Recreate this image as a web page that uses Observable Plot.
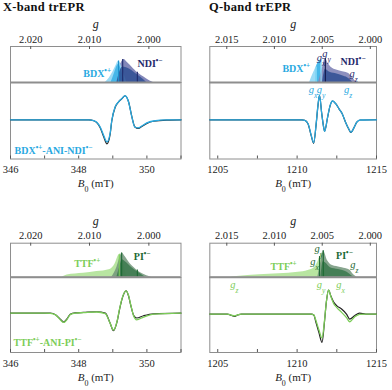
<!DOCTYPE html>
<html><head><meta charset="utf-8">
<script src="https://cdn.jsdelivr.net/npm/d3@7"></script>
<script src="https://cdn.jsdelivr.net/npm/@observablehq/plot@0.6"></script>
<style>
body{margin:0;background:#fff;}
#root{position:relative;width:392px;height:390px;overflow:hidden;background:#fff;font-family:'Liberation Serif','Times New Roman',serif;}
.title{position:absolute;top:0px;font-weight:bold;font-size:12.5px;line-height:14px;letter-spacing:0.3px;color:#111;white-space:nowrap;}
</style></head>
<body><div id="root">
<div class="title" style="left:3px">X-band trEPR</div>
<div class="title" style="left:209px">Q-band trEPR</div>
</div>
<script>
// ---------- axis ticks ----------
const gTicksX = [2.020, 2.010, 2.000];
const gTicksQ = [2.015, 2.010, 2.005, 2.000];
const freqX = 9.799;   // GHz
const freqQ = 34.0;    // GHz
const hOverMuB = 71.4477; // mT per GHz (h/μB)
const bMajorX = [346, 348, 350];
const bMinorX = [347, 349, 351];
const bMajorQ = [1205, 1210, 1215];
const bMinorQ = [1207.5, 1212.5];

// ---------- trEPR traces (normalized) ----------
const fieldX_BDX = [346, 348.3, 348.44, 348.53, 348.63, 348.73, 348.83, 348.92, 348.97, 349.07, 349.17, 349.27, 349.36, 349.46, 349.56, 349.65, 349.75, 349.85, 350.0, 350.19, 350.58, 351];
const expX_BDX   = [0, 0, -0.04, -0.12, -0.33, -0.70, -1.0, -0.62, -0.05, 0.52, 0.74, 0.88, 1.0, 0.76, 0.12, -0.30, -0.36, -0.28, -0.15, -0.06, -0.01, 0];
const simX_BDX   = [0, 0, -0.03, -0.10, -0.30, -0.64, -0.92, -0.58, -0.03, 0.54, 0.75, 0.89, 1.0, 0.75, 0.11, -0.31, -0.34, -0.26, -0.13, -0.05, 0, 0];

const fieldQ_BDX = [1204.5, 1210.3, 1210.48, 1210.69, 1210.89, 1211.04, 1211.20, 1211.30, 1211.41, 1211.55, 1211.67, 1211.73, 1211.92, 1212.08, 1212.23, 1212.43, 1212.64, 1212.84, 1213.05, 1213.25, 1213.39, 1213.60, 1213.76, 1213.97, 1215];
const expQ_BDX   = [0, 0, -0.02, -0.17, -0.66, -0.97, -0.18, 0.50, 1.0, 0.26, -0.30, -0.47, 0.10, 0.58, 0.77, 0.66, 0.45, 0.25, -0.10, -0.38, -0.52, -0.30, -0.10, -0.01, 0];
const simQ_BDX   = [0, 0, -0.02, -0.16, -0.64, -0.94, -0.16, 0.52, 1.0, 0.25, -0.30, -0.48, 0.11, 0.59, 0.77, 0.66, 0.45, 0.25, -0.10, -0.37, -0.51, -0.30, -0.10, -0.01, 0];

const fieldX_TTF = [346, 347.0, 347.17, 347.32, 347.46, 347.56, 347.66, 347.75, 347.9, 348.14, 348.53, 348.78, 348.92, 349.02, 349.12, 349.20, 349.27, 349.39, 349.46, 349.53, 349.61, 349.70, 349.90, 350.19, 351];
const expX_TTF   = [0, 0, 0, -0.07, -0.27, -0.40, -0.25, -0.05, 0.01, 0.03, 0.06, 0.0, -0.45, -0.79, -0.42, 0.18, 0.63, 1.0, 0.78, 0.33, -0.10, -0.22, -0.12, -0.03, 0];
const simX_TTF   = [0, 0, -0.01, -0.08, -0.30, -0.42, -0.28, -0.07, 0, 0.02, 0.05, -0.02, -0.45, -0.76, -0.40, 0.20, 0.65, 1.0, 0.80, 0.35, -0.12, -0.30, -0.18, -0.05, 0];

const fieldQ_TTF = [1204.5, 1205.6, 1205.85, 1206.04, 1206.25, 1206.5, 1210.9, 1211.06, 1211.16, 1211.37, 1211.57, 1211.72, 1211.84, 1211.98, 1212.12, 1212.29, 1212.49, 1212.80, 1213.11, 1213.31, 1213.62, 1213.93, 1214.33, 1215];
const expQ_TTF   = [0, 0, -0.05, -0.10, -0.04, 0, 0, -0.05, -0.28, -0.76, -1.18, -0.35, 0.49, 1.0, 0.76, 0.51, 0.35, 0.21, 0.0, -0.21, -0.07, 0.04, 0, 0];
const simQ_TTF   = [0, 0, -0.04, -0.08, -0.03, 0, 0, -0.04, -0.22, -0.65, -1.0, -0.30, 0.50, 1.0, 0.74, 0.45, 0.28, 0.07, -0.15, -0.32, -0.12, -0.01, 0, 0];

// ---------- simulated powder patterns [B, amplitude] ----------
const bdxX_outer = [[348.78,0],[348.9,0.2],[349.0,0.45],[349.1,0.75],[349.17,0.94],[349.22,0.85],[349.3,0.5],[349.41,0]];
const bdxX_inner = [[348.95,0],[349.05,0.4],[349.12,0.7],[349.17,0.8],[349.25,0.55],[349.35,0]];
const ndiX_outer = [[348.97,0],[349.1,0.35],[349.2,0.7],[349.33,1.0],[349.42,0.88],[349.51,0.75],[349.7,0.46],[349.9,0.25],[350.09,0.07],[350.19,0]];
const ndiX_inner = [[349.12,0],[349.2,0.45],[349.29,0.68],[349.51,0.57],[349.7,0.36],[349.9,0.13],[349.99,0]];

const bdxQ_outer = [[1210.79,0],[1211.0,0.35],[1211.2,0.65],[1211.41,0.9],[1211.51,0.96],[1211.61,0.5],[1211.71,0]];
const bdxQ_inner = [[1211.2,0],[1211.21,0.62],[1211.41,0.88],[1211.5,0.9],[1211.51,0]];
const ndiQ_outer = [[1211.35,0],[1211.6,0.6],[1211.75,0.98],[1211.78,1.0],[1211.95,0.8],[1212.12,0.65],[1212.53,0.51],[1212.94,0.44],[1213.25,0.375],[1213.46,0.21],[1213.66,0.07],[1213.76,0]];
const ndiQ_inner = [[1211.6,0],[1211.78,0.55],[1212.0,0.45],[1212.4,0.37],[1212.94,0.26],[1213.25,0.17],[1213.5,0]];

const ttfX_area  = [[347.51,0],[347.66,0.09],[348.14,0.16],[348.53,0.23],[348.92,0.32],[349.07,0.55],[349.17,0.9],[349.22,0.96],[349.31,0.6],[349.41,0.07],[349.46,0]];
const piX_outer  = [[348.97,0],[349.12,0.4],[349.22,0.85],[349.27,1.0],[349.36,0.85],[349.51,0.55],[349.70,0.3],[349.9,0.12],[350.09,0.02],[350.14,0]];
const piX_inner  = [[349.12,0],[349.22,0.5],[349.27,0.72],[349.4,0.6],[349.55,0.4],[349.72,0.22],[349.9,0.05],[349.95,0]];

const ttfQ_area  = [[1205.8,0],[1206.2,0.03],[1207.62,0.09],[1208.85,0.13],[1210.07,0.19],[1210.69,0.26],[1211.10,0.38],[1211.30,0.58],[1211.51,0.88],[1211.6,0.95],[1211.72,0.4],[1211.82,0]];
const piQ_outer  = [[1211.3,0],[1211.5,0.6],[1211.65,1.03],[1211.92,0.64],[1212.23,0.45],[1212.74,0.38],[1213.15,0.32],[1213.35,0.26],[1213.56,0.09],[1213.76,0]];
const piQ_inner  = [[1211.5,0],[1211.65,0.6],[1211.8,0.55],[1212.1,0.37],[1212.6,0.3],[1213.15,0.19],[1213.5,0.03],[1213.6,0]];

// principal g-value sticks [B, amplitude]
const sticksBDX_X = [[349.17,0.94]];
const sticksNDI_X = [[349.29,1.0],[349.72,0.45]];
const sticksBDX_Q = [[1211.2,0.65],[1211.51,0.96]];
const sticksNDI_Q = [[1211.78,1.0]];
const sticksTTF_X = [[349.19,0.92]];
const sticksPI_X  = [[349.26,1.0],[349.72,0.3]];
const sticksPI_Q  = [[1211.41,0.8],[1211.65,1.03]];

// ---------- styling ----------
const GRID = "#8e8e8e";
const BDX_C = "#29a9e1", BDX_LIGHT = "#95d9f5", BDX_MID = "#3db3e7";
const NDI_C = "#1f2a6c", NDI_OUT = "#8387b9", NDI_IN = "#2f4f93";
const TTF_C = "#7ccd58", TTF_LIGHT = "#b4e49c";
const PI_C = "#1d6934", PI_OUT = "#72957a", PI_IN = "#2f7343";
const FONT = "'Liberation Serif','Times New Roman',serif";
const STYLE = {fontFamily: FONT, fontSize: "10.5px", background: "transparent", overflow: "visible", color: "#222"};

const root = document.getElementById("root");
const NS = "http://www.w3.org/2000/svg";
function richify(svg) {
  svg.querySelectorAll("text").forEach(t => {
    if (t.querySelector("tspan")) return;
    const s = t.textContent;
    if (!/[_^*]/.test(s)) return;
    t.textContent = "";
    const re = /([_^])\{([^}]*)\}|\*([^*]*)\*|([^_^*]+)/g; let m;
    while ((m = re.exec(s))) {
      const ts = document.createElementNS(NS, "tspan");
      if (m[1]) { ts.textContent = m[2]; ts.setAttribute("font-size", "0.72em"); ts.setAttribute("baseline-shift", m[1] === "^" ? "super" : "sub"); }
      else if (m[3] !== undefined) { ts.textContent = m[3]; ts.setAttribute("font-style", "italic"); }
      else ts.textContent = m[4];
      t.appendChild(ts);
    }
  });
}
function place(el, left, top) {
  el.style.position = "absolute"; el.style.left = left + "px"; el.style.top = top + "px";
  root.appendChild(el); richify(el);
}
function labelMarks(list) {
  return list.map(l => Plot.text([l], {
    x: d => d.B, y: d => d.y, text: d => d.t, fill: l.c,
    fontWeight: l.bold ? "bold" : "normal", fontStyle: l.bold ? "normal" : "italic",
    fontSize: l.bold ? 10 : 10.5, textAnchor: l.anchor || "middle"
  }));
}

function buildPanel(c) {
  const C = hOverMuB * c.freq;
  const gB = c.gTicks.map(g => C / g);
  const fmtG = d3.format(".3f");
  const top = Plot.plot({
    width: 196, height: c.mT + c.fhTop + 2,
    marginTop: c.mT, marginBottom: 2, marginLeft: c.mL, marginRight: c.mR,
    x: {domain: c.xDomain}, y: {domain: [0, c.topMax], axis: null},
    style: STYLE,
    marks: [
      ...c.areas.map(a => Plot.areaY(a.data, {x: d => d[0], y: d => d[1], fill: a.fill, fillOpacity: a.op ?? 1, curve: "monotone-x"})),
      ...c.sticks.map(s => Plot.ruleX(s.data, {x: d => d[0], y1: 0, y2: d => d[1], stroke: s.color, strokeWidth: 1.1})),
      Plot.ruleY([0], {stroke: GRID, strokeWidth: 2}),
      Plot.frame({stroke: GRID}),
      Plot.ruleX(gB, {x: d => d, insetBottom: c.fhTop - 3, stroke: "#555"}),
      Plot.axisX(gB, {anchor: "top", tickSize: 0, tickPadding: 4, tickFormat: d => fmtG(C / d), label: null, fill: "#222"}),
      Plot.text(["g"], {text: d => d, frameAnchor: "top", dy: -27, fontStyle: "italic", fontSize: 12, fill: "#222"}),
      ...labelMarks(c.topLabels)
    ]
  });
  place(top, c.left, c.top);
  const trace = (xs, ys) => xs.map((b, i) => [b, ys[i]]);
  const bottom = Plot.plot({
    width: 196, height: 2 + c.fhBot + 37,
    marginTop: 2, marginBottom: 37, marginLeft: c.mL, marginRight: c.mR,
    x: {domain: c.xDomain}, y: {domain: c.botDomain, axis: null},
    style: STYLE,
    marks: [
      Plot.frame({stroke: GRID}),
      Plot.line(trace(c.field, c.exp), {x: d => d[0], y: d => d[1], stroke: "#222", strokeWidth: 1.2, curve: "monotone-x"}),
      Plot.line(trace(c.field, c.sim), {x: d => d[0], y: d => d[1], stroke: c.simColor, strokeWidth: 1.3, curve: "monotone-x"}),
      Plot.ruleX([...c.bMajor, ...c.bMinor], {x: d => d, insetTop: c.fhBot - 3, stroke: "#555"}),
      Plot.axisX(c.bMajor, {anchor: "bottom", tickSize: 0, tickPadding: 7, tickFormat: d3.format("d"), label: null, fill: "#222"}),
      Plot.text(["*B*_{0} (mT)"], {text: d => d, frameAnchor: "bottom", dy: 28, fontSize: 11, fill: "#222"}),
      ...labelMarks(c.botLabels)
    ]
  });
  place(bottom, c.left, c.top + c.mT + c.fhTop - 2);
}

buildPanel({
  left: 0, top: 0, mT: 46, fhTop: 36, fhBot: 76.5, mL: 10, mR: 15.5,
  xDomain: [346, 351], freq: freqX, gTicks: gTicksX, topMax: 1.57, botDomain: [-1.63, 1.55],
  areas: [{data: ndiX_outer, fill: NDI_OUT}, {data: bdxX_outer, fill: BDX_LIGHT, op: 0.95}, {data: bdxX_inner, fill: BDX_MID, op: 0.9}, {data: ndiX_inner, fill: NDI_IN, op: 0.85}],
  sticks: [{data: sticksBDX_X, color: "#1b8fc9"}, {data: sticksNDI_X, color: NDI_C}],
  topLabels: [{t: "BDX^{•+}", B: 348.54, y: 0.40, c: BDX_C, bold: true}, {t: "NDI^{•−}", B: 350.09, y: 0.83, c: NDI_C, bold: true}],
  field: fieldX_BDX, exp: expX_BDX, sim: simX_BDX, simColor: BDX_C, bMajor: bMajorX, bMinor: bMinorX,
  botLabels: [{t: "BDX^{•+}-ANI-NDI^{•−}", B: 346.12, y: -1.28, c: BDX_C, bold: true, anchor: "start"}]
});
buildPanel({
  left: 196, top: 0, mT: 46, fhTop: 36, fhBot: 76.5, mL: 13.3, mR: 16,
  xDomain: [1204.5, 1215], freq: freqQ, gTicks: gTicksQ, topMax: 1.5, botDomain: [-1.61, 1.53],
  areas: [{data: bdxQ_outer, fill: BDX_LIGHT, op: 0.95}, {data: bdxQ_inner, fill: BDX_MID, op: 0.9}, {data: ndiQ_outer, fill: NDI_OUT, op: 0.92}, {data: ndiQ_inner, fill: NDI_IN, op: 0.85}],
  sticks: [{data: sticksBDX_Q, color: "#8fdcf7"}, {data: sticksNDI_Q, color: "#141c4f"}],
  topLabels: [{t: "BDX^{•+}", B: 1209.95, y: 0.57, c: BDX_C, bold: true}, {t: "NDI^{•−}", B: 1213.52, y: 0.86, c: NDI_C, bold: true},
    {t: "g_{x}", B: 1211.51, y: 1.04, c: NDI_C}, {t: "g_{y}", B: 1211.86, y: 1.22, c: NDI_C}, {t: "g_{z}", B: 1213.55, y: 0.38, c: NDI_C}],
  field: fieldQ_BDX, exp: expQ_BDX, sim: simQ_BDX, simColor: BDX_C, bMajor: bMajorQ, bMinor: bMinorQ,
  botLabels: [{t: "g_{x}", B: 1211.01, y: 1.25, c: BDX_C}, {t: "g_{y}", B: 1211.51, y: 1.25, c: BDX_C}, {t: "g_{z}", B: 1213.21, y: 1.25, c: BDX_C}]
});
buildPanel({
  left: 0, top: 195, mT: 47.7, fhTop: 34, fhBot: 75, mL: 10, mR: 15.5,
  xDomain: [346, 351], freq: freqX, gTicks: gTicksX, topMax: 1.4, botDomain: [-1.77, 1.6],
  areas: [{data: ttfX_area, fill: TTF_LIGHT, op: 0.95}, {data: piX_outer, fill: PI_OUT, op: 0.85}, {data: piX_inner, fill: PI_IN, op: 0.75}],
  sticks: [{data: sticksTTF_X, color: TTF_C}, {data: sticksPI_X, color: PI_C}],
  topLabels: [{t: "TTF^{•+}", B: 348.25, y: 0.56, c: TTF_C, bold: true}, {t: "PI^{•−}", B: 349.86, y: 0.82, c: PI_C, bold: true}],
  field: fieldX_TTF, exp: expX_TTF, sim: simX_TTF, simColor: TTF_C, bMajor: bMajorX, bMinor: bMinorX,
  botLabels: [{t: "TTF^{•+}-ANI-PI^{•−}", B: 346.09, y: -1.32, c: TTF_C, bold: true, anchor: "start"}]
});
buildPanel({
  left: 196, top: 195, mT: 47.7, fhTop: 34, fhBot: 75, mL: 13.3, mR: 16,
  xDomain: [1204.5, 1215], freq: freqQ, gTicks: gTicksQ, topMax: 1.32, botDomain: [-1.6, 1.52],
  areas: [{data: ttfQ_area, fill: TTF_LIGHT, op: 0.95}, {data: piQ_outer, fill: PI_OUT, op: 0.85}, {data: piQ_inner, fill: PI_IN, op: 0.75}],
  sticks: [{data: sticksPI_Q, color: PI_C}],
  topLabels: [{t: "TTF^{•+}", B: 1209.15, y: 0.4, c: TTF_C, bold: true}, {t: "PI^{•−}", B: 1212.98, y: 0.85, c: PI_C, bold: true},
    {t: "g_{y}", B: 1211.37, y: 1.1, c: PI_C}, {t: "g_{x}", B: 1211.1, y: 0.62, c: PI_C}, {t: "g_{z}", B: 1213.6, y: 0.47, c: PI_C}],
  field: fieldQ_TTF, exp: expQ_TTF, sim: simQ_TTF, simColor: TTF_C, bMajor: bMajorQ, bMinor: bMinorQ,
  botLabels: [{t: "g_{z}", B: 1206.04, y: 1.21, c: TTF_C}, {t: "g_{y}", B: 1211.51, y: 1.21, c: TTF_C}, {t: "g_{x}", B: 1212.74, y: 1.21, c: TTF_C}]
});
</script>
</body></html>
